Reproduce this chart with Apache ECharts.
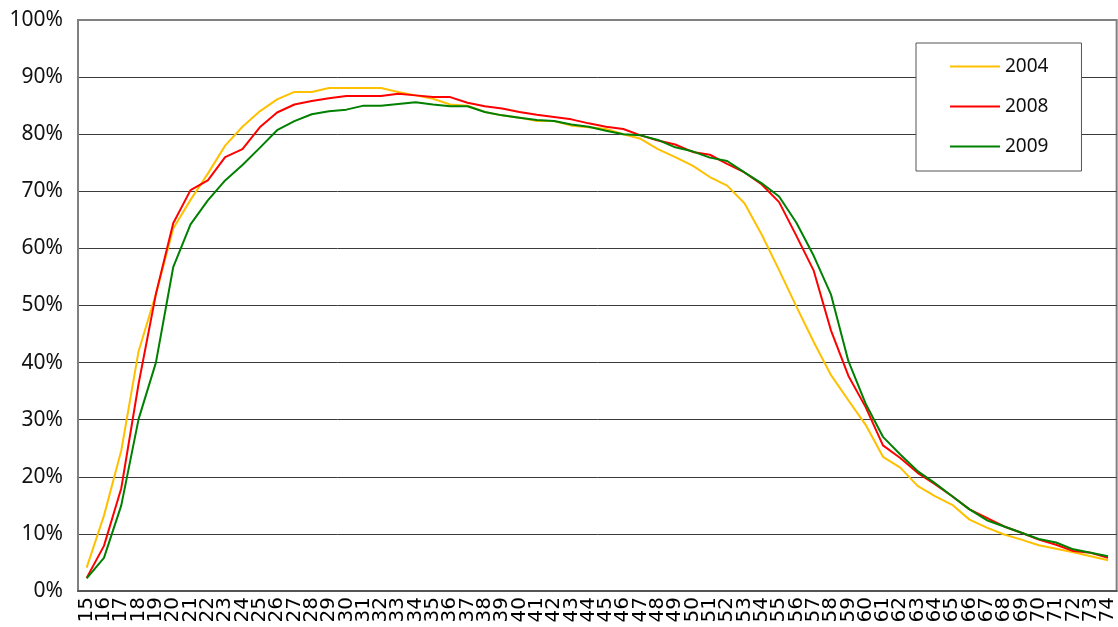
<!DOCTYPE html>
<html>
<head>
<meta charset="utf-8">
<script src="https://cdn.jsdelivr.net/npm/echarts@6/dist/echarts.min.js"></script>
<style>
  html, body { margin: 0; padding: 0; background: #fff; }
  #chart { width: 1118px; height: 627px; }
</style>
</head>
<body>
<div id="chart"></div>
<script>
  // ages 15..74
  var ages = []
  for (var a = 15; a <= 74; a++) ages.push(String(a))

  var years = ['2004', '2008', '2009']

  var values2004 = [4.1, 13.2, 24.6, 42.0, 52.0, 63.5, 68.5, 73.1, 78.0, 81.3,
    84.0, 86.1, 87.4, 87.4, 88.1, 88.1, 88.1, 88.1, 87.4, 86.8,
    86.2, 85.2, 85.0, 83.9, 83.3, 82.9, 82.3, 82.3, 81.5, 81.2,
    80.9, 80.0, 79.2, 77.4, 76.0, 74.5, 72.5, 71.0, 67.9, 62.4,
    56.2, 49.8, 43.6, 37.8, 33.4, 29.1, 23.5, 21.6, 18.4, 16.6,
    15.1, 12.5, 11.1, 9.9, 9.0, 8.0, 7.4, 6.8, 6.1, 5.4]

  var values2008 = [2.3, 7.9, 18.0, 36.3, 52.0, 64.4, 70.2, 71.9, 76.0, 77.4,
    81.2, 83.8, 85.2, 85.8, 86.3, 86.7, 86.7, 86.7, 87.1, 86.8,
    86.5, 86.5, 85.5, 84.9, 84.5, 83.9, 83.4, 83.0, 82.6, 81.9,
    81.3, 80.9, 79.8, 78.9, 78.2, 76.9, 76.4, 74.8, 73.3, 71.2,
    68.1, 62.2, 56.1, 45.6, 37.7, 32.2, 25.5, 23.3, 20.7, 18.7,
    16.6, 14.3, 12.8, 11.3, 10.2, 9.0, 8.1, 7.0, 6.7, 5.8]

  var values2009 = [2.2, 5.8, 15.0, 30.1, 40.0, 56.7, 64.2, 68.4, 71.9, 74.6,
    77.6, 80.7, 82.3, 83.5, 84.0, 84.3, 85.0, 85.0, 85.3, 85.6,
    85.2, 84.9, 84.9, 83.9, 83.3, 82.9, 82.5, 82.3, 81.7, 81.3,
    80.6, 80.0, 79.8, 79.0, 77.7, 77.0, 75.9, 75.3, 73.3, 71.4,
    69.1, 64.5, 58.7, 51.9, 40.3, 32.8, 27.0, 23.9, 21.0, 18.9,
    16.6, 14.3, 12.4, 11.3, 10.2, 9.1, 8.5, 7.3, 6.7, 6.1]

  var colors = ['#FFC000', '#FF0000', '#008000']

  var chart = echarts.init(document.getElementById('chart'))
  chart.setOption({
    animation: false,
    color: colors,
    textStyle: { fontFamily: 'Noto Sans' },
    grid: {
      left: 78,
      right: 1,
      top: 20,
      bottom: 36,
      show: true,
      borderColor: '#808080',
      borderWidth: 2
    },
    legend: {
      orient: 'vertical',
      left: 916,
      top: 43,
      data: years,
      icon: 'rect',
      itemWidth: 50,
      itemHeight: 2,
      itemGap: 19,
      padding: [13, 33, 14, 34],
      backgroundColor: '#fff',
      borderColor: '#555',
      borderWidth: 1,
      textStyle: { fontSize: 19, color: '#111', lineHeight: 21 }
    },
    xAxis: {
      type: 'category',
      data: ages,
      boundaryGap: true,
      axisLine: { lineStyle: { color: '#555', width: 2 } },
      axisTick: { length: 6, lineStyle: { color: '#555' } },
      axisLabel: {
        interval: 0,
        rotate: 90,
        margin: 6,
        fontSize: 20,
        fontFamily: 'DejaVu Sans',
        color: '#000'
      }
    },
    yAxis: {
      type: 'value',
      min: 0,
      max: 100,
      interval: 10,
      axisLine: { show: true, lineStyle: { color: '#808080', width: 2 } },
      axisTick: { show: false },
      axisLabel: {
        formatter: '{value}%',
        fontSize: 21,
        color: '#111',
        margin: 15
      },
      splitLine: {
        showMinLine: false,
        showMaxLine: false,
        lineStyle: { color: '#3a3a3a', width: 1 }
      }
    },
    series: [
      { name: years[0], type: 'line', data: values2004, symbol: 'none', lineStyle: { width: 2 } },
      { name: years[1], type: 'line', data: values2008, symbol: 'none', lineStyle: { width: 2 } },
      { name: years[2], type: 'line', data: values2009, symbol: 'none', lineStyle: { width: 2 } }
    ]
  })
</script>
</body>
</html>
